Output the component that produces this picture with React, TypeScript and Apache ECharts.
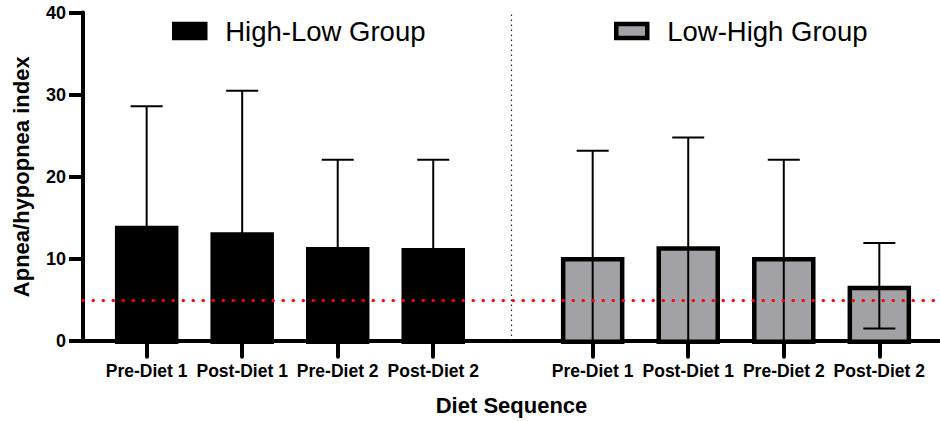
import React, { useEffect, useRef } from "react";
import * as echarts from "echarts";

// ---- data ----
const categories = ["Pre-Diet 1", "Post-Diet 1", "Pre-Diet 2", "Post-Diet 2"];
const groupNames = ["High-Low Group", "Low-High Group"];
const highLowMeans = [14.1, 13.3, 11.5, 11.4];
const highLowUpper = [28.6, 30.5, 22.1, 22.1];
const highLowLower = [-0.4, -3.9, 0.9, 0.7];
const lowHighMeans = [10.3, 11.6, 10.3, 6.8];
const lowHighUpper = [23.2, 24.8, 22.1, 12.0];
const lowHighLower = [-2.6, -1.6, -1.5, 1.6];
const yTicks = [0, 10, 20, 30, 40];
const referenceLevel = 5;
const dividerPos = 0.502;

const FONT = '"Liberation Sans", Arial, Helvetica, sans-serif';
const BAR_OUTER = 63.5;
const BORDER = 4.5;
const CAP_HALF = 16;

function barRenderer(fill: string) {
  return (_params: any, api: any) => {
    const idx = api.value(0);
    const v = api.value(1);
    const top = api.coord([idx, v]);
    const base = api.coord([idx, 0]);
    const half = BAR_OUTER / 2 - BORDER / 2;
    return {
      type: "rect",
      shape: {
        x: top[0] - half,
        y: top[1] + BORDER / 2,
        width: half * 2,
        height: base[1] - top[1] - BORDER / 2,
      },
      style: { fill, stroke: "#000", lineWidth: BORDER },
    };
  };
}

function errRenderer(_params: any, api: any) {
  const idx = api.value(0);
  const lo = api.value(1);
  const hi = api.value(2);
  const pHi = api.coord([idx, hi]);
  const pLo = api.coord([idx, Math.max(lo, 0)]);
  const st = { stroke: "#000", lineWidth: 2 };
  const children: any[] = [
    { type: "line", shape: { x1: pHi[0], y1: pHi[1], x2: pLo[0], y2: pLo[1] }, style: st },
    { type: "line", shape: { x1: pHi[0] - CAP_HALF, y1: pHi[1], x2: pHi[0] + CAP_HALF, y2: pHi[1] }, style: st },
  ];
  if (lo >= 0) {
    children.push({
      type: "line",
      shape: { x1: pLo[0] - CAP_HALF, y1: pLo[1], x2: pLo[0] + CAP_HALF, y2: pLo[1] },
      style: st,
    });
  }
  return { type: "group", children };
}

export default function App() {
  const ref = useRef<HTMLDivElement>(null);
  useEffect(() => {
    document.body.style.margin = "0";
    const chart = echarts.init(ref.current!, null, { renderer: "svg" });
    const catAxis = (gridIndex: number) => ({
      type: "category",
      gridIndex,
      data: categories,
      axisLine: { show: false },
      axisTick: { show: true, alignWithLabel: true, length: 15, lineStyle: { color: "#000", width: 4, cap: "round" } },
      axisLabel: { interval: 0, margin: 20, color: "#000", fontFamily: FONT, fontWeight: "bold", fontSize: 17.5 },
      splitLine: { show: false },
    });
    const hiddenY = (gridIndex: number) => ({
      type: "value",
      gridIndex,
      min: 0,
      max: 40,
      show: false,
    });
    const legendText = {
      color: "#000",
      fontFamily: FONT,
      fontSize: 27.5,
      padding: [0, 0, 0, 15],
    };
    const option: any = {
      animation: false,
      textStyle: { fontFamily: FONT },
      legend: [
        {
          data: [{ name: groupNames[0], icon: "rect", itemStyle: { color: "#000", borderColor: "#000", borderWidth: BORDER } }],
          left: 172,
          top: 17,
          padding: 0,
          itemWidth: 31,
          itemHeight: 14,
          selectedMode: false,
          textStyle: legendText,
        },
        {
          data: [{ name: groupNames[1], icon: "rect", itemStyle: { color: "#a2a1a6", borderColor: "#000", borderWidth: BORDER } }],
          left: 614,
          top: 17,
          padding: 0,
          itemWidth: 31,
          itemHeight: 14,
          selectedMode: false,
          textStyle: legendText,
        },
      ],
      grid: [
        { left: 83, right: 0, top: 12.5, bottom: 79.3 },
        { left: 98.9, width: 382.1, top: 12.5, bottom: 79.3 },
        { left: 544.9, width: 382.2, top: 12.5, bottom: 79.3 },
      ],
      xAxis: [
        {
          type: "value",
          gridIndex: 0,
          min: 0,
          max: 1,
          axisLine: { show: true, onZero: false, lineStyle: { color: "#000", width: 4 } },
          axisTick: { show: false },
          axisLabel: { show: false },
          splitLine: { show: false },
          name: "Diet Sequence",
          nameLocation: "middle",
          nameGap: 53,
          nameTextStyle: { color: "#000", fontFamily: FONT, fontWeight: "bold", fontSize: 22 },
        },
        catAxis(1),
        catAxis(2),
      ],
      yAxis: [
        {
          type: "value",
          gridIndex: 0,
          min: yTicks[0],
          max: yTicks[yTicks.length - 1],
          interval: 10,
          axisLine: { show: true, lineStyle: { color: "#000", width: 4 } },
          axisTick: { show: true, length: 14, lineStyle: { color: "#000", width: 4 } },
          axisLabel: { margin: 17, color: "#000", fontFamily: FONT, fontWeight: "bold", fontSize: 18 },
          splitLine: { show: false },
          name: "Apnea/hypopnea index",
          nameLocation: "middle",
          nameRotate: 90,
          nameGap: 51,
          nameTextStyle: { color: "#000", fontFamily: FONT, fontWeight: "bold", fontSize: 22 },
        },
        hiddenY(1),
        hiddenY(2),
      ],
      series: [
        {
          type: "line",
          xAxisIndex: 0,
          yAxisIndex: 0,
          data: [],
          z: 1,
          markLine: {
            silent: true,
            symbol: "none",
            label: { show: false },
            data: [
              { yAxis: referenceLevel, lineStyle: { color: "#ff0000", width: 3, type: [0.5, 9.5], cap: "round" } },
              { xAxis: dividerPos, lineStyle: { color: "#222", width: 1.2, type: [1.5, 3.5] } },
            ],
          },
        },
        {
          name: groupNames[0],
          type: "custom",
          xAxisIndex: 1,
          yAxisIndex: 1,
          z: 3,
          itemStyle: { color: "#000" },
          renderItem: barRenderer("#000"),
          data: highLowMeans.map((v, i) => [i, v]),
        },
        {
          name: groupNames[1],
          type: "custom",
          xAxisIndex: 2,
          yAxisIndex: 2,
          z: 3,
          itemStyle: { color: "#a2a1a6" },
          renderItem: barRenderer("#a2a1a6"),
          data: lowHighMeans.map((v, i) => [i, v]),
        },
        {
          type: "custom",
          xAxisIndex: 1,
          yAxisIndex: 1,
          z: 4,
          renderItem: errRenderer,
          encode: { x: 0, y: [1, 2] },
          data: highLowUpper.map((v, i) => [i, highLowLower[i], v]),
        },
        {
          type: "custom",
          xAxisIndex: 2,
          yAxisIndex: 2,
          z: 4,
          renderItem: errRenderer,
          encode: { x: 0, y: [1, 2] },
          data: lowHighUpper.map((v, i) => [i, lowHighLower[i], v]),
        },
      ],
    };
    chart.setOption(option);
    return () => chart.dispose();
  }, []);
  return <div ref={ref} style={{ width: 940, height: 421 }} />;
}
